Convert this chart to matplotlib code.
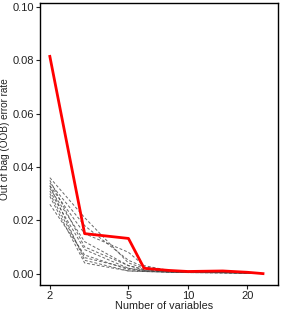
import matplotlib
matplotlib.use('Agg')
import matplotlib.pyplot as plt
from matplotlib.ticker import FixedLocator, NullLocator

plt.rcParams['font.family'] = ['Liberation Sans', 'DejaVu Sans']

# number of variables used at each step
n_vars = [2, 3, 5, 6, 8, 10, 15, 20, 24]

# OOB error rate, main run
oob_main = [0.0815, 0.015, 0.0132, 0.002, 0.0012, 0.0008, 0.001, 0.0005, 0.0]

# repeated runs (gray dashed)
oob_runs = [
    [0.036, 0.021, 0.004, 0.002, 0.001, 0.0008, 0.0005, 0.0003, 0.0],
    [0.034, 0.018, 0.005, 0.0025, 0.0012, 0.0008, 0.0006, 0.0003, 0.0],
    [0.033, 0.015, 0.008, 0.003, 0.0012, 0.0008, 0.0005, 0.0003, 0.0],
    [0.032, 0.012, 0.003, 0.0015, 0.0008, 0.0006, 0.0004, 0.0002, 0.0],
    [0.031, 0.009, 0.002, 0.0012, 0.0007, 0.0005, 0.0004, 0.0002, 0.0],
    [0.030, 0.006, 0.002, 0.001, 0.0006, 0.0005, 0.0003, 0.0002, 0.0],
    [0.029, 0.004, 0.001, 0.0008, 0.0005, 0.0004, 0.0003, 0.0002, 0.0],
    [0.026, 0.007, 0.0015, 0.001, 0.0006, 0.0004, 0.0003, 0.0002, 0.0],
    [0.035, 0.010, 0.003, 0.0015, 0.0008, 0.0006, 0.0004, 0.0002, 0.0],
    [0.033, 0.005, 0.001, 0.0008, 0.0005, 0.0004, 0.0003, 0.0002, 0.0],
]

x_ticks = [2, 5, 10, 20]
y_ticks = [0.0, 0.02, 0.04, 0.06, 0.08, 0.10]

fig = plt.figure(figsize=(2.82, 3.12), dpi=100)
ax = fig.add_axes([0.143, 0.088, 0.843, 0.903])

for run in oob_runs:
    ax.plot(n_vars, run, color='#444444', lw=0.7, ls=(0, (3, 2)), alpha=0.8)
ax.plot(n_vars, oob_main, color='red', lw=2)

ax.set_xscale('log')
ax.set_xlim(1.79, 28.6)
ax.set_ylim(-0.0041, 0.1016)
ax.xaxis.set_major_locator(FixedLocator(x_ticks))
ax.xaxis.set_minor_locator(NullLocator())
ax.set_xticklabels([str(t) for t in x_ticks])
ax.set_yticks(y_ticks)
ax.set_yticklabels(['%.2f' % t for t in y_ticks])
ax.tick_params(labelsize=8, length=3, width=0.8, colors='#222222', pad=1.3)

for s in ax.spines.values():
    s.set_linewidth(1.0)

ax.set_xlabel('Number of variables', fontsize=7.8, color='#222222')
ax.xaxis.set_label_coords(0.522, -0.058)
ax.set_ylabel('Out of bag (OOB) error rate', fontsize=7.2, color='#222222')
ax.yaxis.set_label_coords(-0.127, 0.515)

fig.savefig('out.png', dpi=100)
